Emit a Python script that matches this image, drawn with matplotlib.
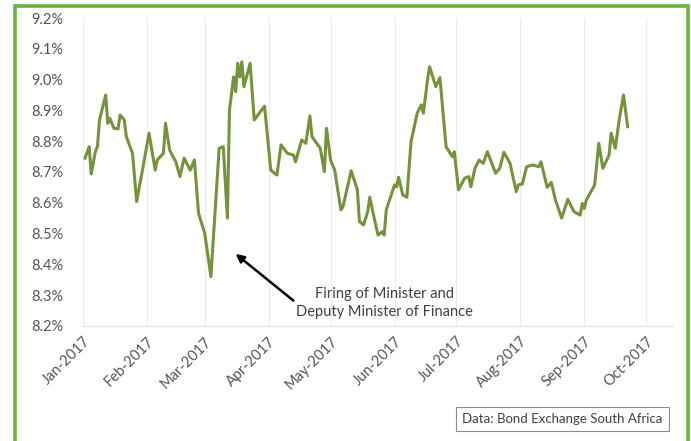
import matplotlib
matplotlib.use("Agg")
import matplotlib.pyplot as plt
import matplotlib.dates as mdates
from matplotlib.patches import Rectangle
from matplotlib.ticker import FuncFormatter
import numpy as np

# 10-year government bond yield (turning points)
dates = [
    "2017-01-02", "2017-01-04", "2017-01-05", "2017-01-07", "2017-01-08", "2017-01-09",
    "2017-01-12", "2017-01-13", "2017-01-14", "2017-01-16", "2017-01-18", "2017-01-19",
    "2017-01-21", "2017-01-22", "2017-01-25", "2017-01-27", "2017-01-30", "2017-02-02",
    "2017-02-05", "2017-02-06", "2017-02-09", "2017-02-10", "2017-02-12", "2017-02-15",
    "2017-02-17", "2017-02-19", "2017-02-22", "2017-02-24", "2017-02-26", "2017-03-01",
    "2017-03-04", "2017-03-08", "2017-03-10", "2017-03-12", "2017-03-13", "2017-03-15",
    "2017-03-16", "2017-03-17", "2017-03-18", "2017-03-19", "2017-03-20", "2017-03-23",
    "2017-03-25", "2017-03-30", "2017-04-02", "2017-04-05", "2017-04-07", "2017-04-10",
    "2017-04-13", "2017-04-14", "2017-04-17", "2017-04-19", "2017-04-21", "2017-04-22",
    "2017-04-26", "2017-04-28", "2017-04-29", "2017-05-01", "2017-05-03", "2017-05-06",
    "2017-05-07", "2017-05-11", "2017-05-14", "2017-05-15", "2017-05-17", "2017-05-19",
    "2017-05-20", "2017-05-22", "2017-05-24", "2017-05-26", "2017-05-27", "2017-05-28",
    "2017-06-01", "2017-06-02", "2017-06-03", "2017-06-05", "2017-06-07", "2017-06-09",
    "2017-06-12", "2017-06-14", "2017-06-15", "2017-06-17", "2017-06-18", "2017-06-21",
    "2017-06-23", "2017-06-26", "2017-06-29", "2017-06-30", "2017-07-02", "2017-07-05",
    "2017-07-07", "2017-07-08", "2017-07-10", "2017-07-12", "2017-07-14", "2017-07-16",
    "2017-07-20", "2017-07-22", "2017-07-24", "2017-07-27", "2017-07-30", "2017-07-31",
    "2017-08-02", "2017-08-04", "2017-08-07", "2017-08-10", "2017-08-11", "2017-08-14",
    "2017-08-16", "2017-08-18", "2017-08-21", "2017-08-24", "2017-08-27", "2017-08-30",
    "2017-08-31", "2017-09-01", "2017-09-02", "2017-09-06", "2017-09-08", "2017-09-10",
    "2017-09-13", "2017-09-14", "2017-09-16", "2017-09-18", "2017-09-20", "2017-09-22",
]
yields = [
    8.745, 8.782, 8.694, 8.766, 8.782, 8.869,
    8.950, 8.858, 8.874, 8.842, 8.840, 8.885,
    8.869, 8.815, 8.761, 8.604, 8.712, 8.826,
    8.706, 8.739, 8.761, 8.858, 8.771, 8.733,
    8.685, 8.745, 8.706, 8.739, 8.566, 8.501,
    8.360, 8.777, 8.782, 8.550, 8.901, 9.009,
    8.961, 9.053, 9.009, 9.058, 8.977, 9.053,
    8.869, 8.914, 8.706, 8.690, 8.788, 8.761,
    8.755, 8.733, 8.804, 8.793, 8.882, 8.815,
    8.777, 8.701, 8.842, 8.739, 8.706, 8.577,
    8.587, 8.704, 8.642, 8.539, 8.528, 8.571,
    8.618, 8.555, 8.495, 8.506, 8.495, 8.577,
    8.658, 8.652, 8.683, 8.625, 8.618, 8.798,
    8.891, 8.918, 8.891, 8.999, 9.042, 8.977,
    9.007, 8.782, 8.750, 8.766, 8.642, 8.680,
    8.685, 8.652, 8.712, 8.739, 8.728, 8.766,
    8.696, 8.712, 8.764, 8.728, 8.636, 8.658,
    8.661, 8.717, 8.723, 8.717, 8.733, 8.650,
    8.666, 8.609, 8.550, 8.611, 8.571, 8.560,
    8.598, 8.582, 8.609, 8.658, 8.793, 8.712,
    8.755, 8.826, 8.777, 8.874, 8.950, 8.847,
]
month_ticks = ["2017-%02d-01" % m for m in range(1, 11)]
y_ticks = [8.2, 8.3, 8.4, 8.5, 8.6, 8.7, 8.8, 8.9, 9.0, 9.1, 9.2]

plt.rcParams['font.family'] = ['Lato', 'DejaVu Sans']

x = np.array(dates, dtype="datetime64[D]")
xt = np.array(month_ticks, dtype="datetime64[D]")

fig = plt.figure(figsize=(6.91, 4.41), dpi=100)
ax = fig.add_axes([0.1201, 0.261, 0.974 - 0.1201, 0.959 - 0.261])

ax.plot(x, yields, color="#76923C", lw=2.2, solid_joinstyle="round")

ax.set_xlim(np.datetime64("2017-01-01"), np.datetime64("2017-10-14"))
ax.set_ylim(8.2, 9.2)
ax.set_xticks(xt)
ax.xaxis.set_major_formatter(mdates.DateFormatter("%b-%Y"))
ax.set_yticks(y_ticks)
ax.yaxis.set_major_formatter(FuncFormatter(lambda v, p: "%.1f%%" % v))

for lab in ax.get_xticklabels():
    lab.set_rotation(45)
    lab.set_ha("right")
    lab.set_rotation_mode("anchor")
ax.tick_params(axis="both", length=0, labelsize=10.5, labelcolor="#555555")
ax.tick_params(axis="x", pad=6)
ax.tick_params(axis="y", pad=14)

ax.grid(axis="x", color="#ececec", lw=0.9)
ax.set_axisbelow(True)
for s in ["top", "right", "left"]:
    ax.spines[s].set_visible(False)
ax.spines["bottom"].set_color("#e3e3e3")
ax.spines["bottom"].set_linewidth(0.9)

# annotation
ax.annotate("", xy=(np.datetime64("2017-03-16"), 8.434),
            xytext=(np.datetime64("2017-04-13"), 8.282),
            arrowprops=dict(arrowstyle="-|>", color="black", lw=1.8,
                            mutation_scale=12, shrinkA=0, shrinkB=0))
ax.text(np.datetime64("2017-05-27"), 8.275,
        "Firing of Minister and\nDeputy Minister of Finance",
        ha="center", va="center", multialignment="center",
        fontsize=10.5, color="#404040", linespacing=1.35)

fig.text(0.814, 0.050, "Data: Bond Exchange South Africa", ha="center", va="center",
         fontsize=9.5, color="#404040",
         bbox=dict(boxstyle="square,pad=0.45", fc="white", ec="#8c8c8c", lw=0.8))

# green frame around the figure
fig.patches.append(Rectangle((15 / 691, -0.05), (688 - 15) / 691, 1.05 - 6 / 441,
                             transform=fig.transFigure, fill=False,
                             ec="#6DB33F", lw=2.6, zorder=10))

fig.savefig("out.png", dpi=100)
